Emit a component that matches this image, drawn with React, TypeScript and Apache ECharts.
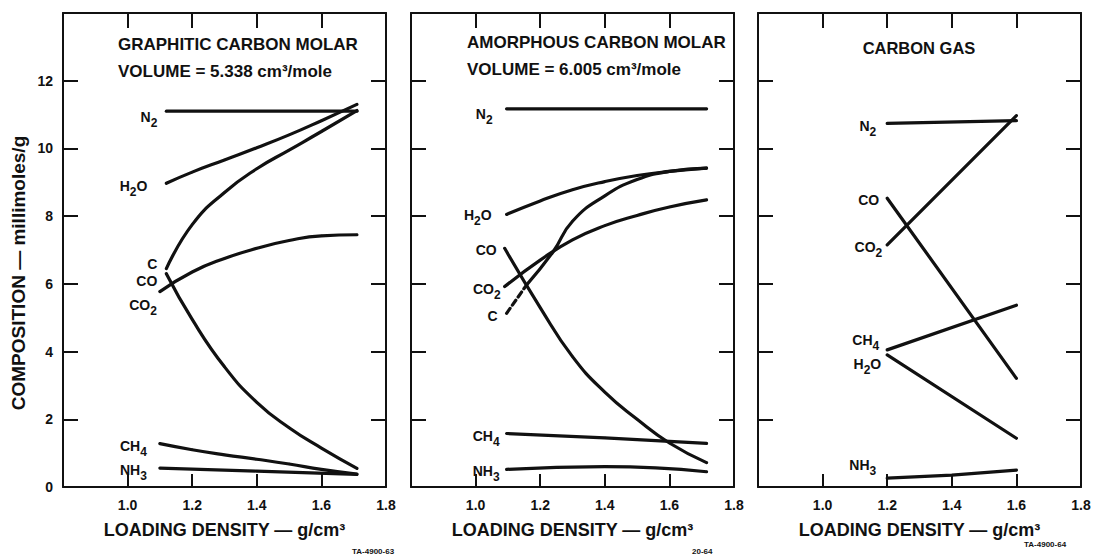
import React, { useEffect, useRef } from "react";
import * as echarts from "echarts";

// ---------- axes ----------
const densityTicks = [0.8, 1.0, 1.2, 1.4, 1.6, 1.8];
const compositionTicks = [0, 2, 4, 6, 8, 10, 12, 14];

// ---------- panel titles ----------
const panelTitles = [
  ["GRAPHITIC CARBON MOLAR", "VOLUME = 5.338 cm³/mole"],
  ["AMORPHOUS CARBON MOLAR", "VOLUME = 6.005 cm³/mole"],
  ["CARBON GAS"],
];
const xAxisTitle = "LOADING DENSITY — g/cm³";
const yAxisTitle = "COMPOSITION — millimoles/g";
const figureIds = ["TA-4900-63", "20-64", "TA-4900-64"];

// ---------- panel 1: graphitic carbon  [density g/cm³, millimoles/g] ----------
const graphiticN2 = [[1.12, 11.1], [1.71, 11.1]];
const graphiticH2O = [[1.12, 8.97], [1.2, 9.3], [1.3, 9.66], [1.4, 10.02], [1.5, 10.4], [1.6, 10.82], [1.71, 11.3]];
const graphiticC = [[1.12, 6.45], [1.2, 7.75], [1.3, 8.7], [1.4, 9.4], [1.5, 9.95], [1.6, 10.5], [1.71, 11.12]];
const graphiticCO = [[1.12, 6.3], [1.2, 4.95], [1.3, 3.55], [1.4, 2.5], [1.5, 1.75], [1.6, 1.15], [1.71, 0.55]];
const graphiticCO2 = [[1.1, 5.77], [1.2, 6.35], [1.3, 6.75], [1.4, 7.05], [1.5, 7.28], [1.6, 7.42], [1.71, 7.45]];
const graphiticCH4 = [[1.1, 1.28], [1.2, 1.1], [1.3, 0.95], [1.4, 0.82], [1.5, 0.68], [1.6, 0.52], [1.71, 0.38]];
const graphiticNH3 = [[1.1, 0.56], [1.4, 0.47], [1.71, 0.37]];

// ---------- panel 2: amorphous carbon ----------
const amorphousN2 = [[1.096, 11.17], [1.715, 11.17]];
const amorphousH2O = [[1.096, 8.05], [1.2, 8.45], [1.3, 8.78], [1.4, 9.02], [1.5, 9.2], [1.6, 9.32], [1.715, 9.42]];
const amorphousCO = [[1.09, 7.05], [1.2, 5.3], [1.3, 3.85], [1.4, 2.8], [1.5, 2.0], [1.6, 1.3], [1.715, 0.72]];
const amorphousCO2 = [[1.09, 5.92], [1.2, 6.7], [1.3, 7.3], [1.4, 7.72], [1.5, 8.02], [1.6, 8.27], [1.715, 8.48]];
const amorphousCExtrapolated = [[1.096, 5.13], [1.158, 5.97]];
const amorphousC = [[1.158, 5.97], [1.24, 6.95], [1.3, 7.85], [1.4, 8.6], [1.5, 9.08], [1.6, 9.32], [1.715, 9.42]];
const amorphousCH4 = [[1.096, 1.58], [1.4, 1.45], [1.715, 1.29]];
const amorphousNH3 = [[1.096, 0.52], [1.4, 0.6], [1.715, 0.45]];

// ---------- panel 3: carbon gas ----------
const gasN2 = [[1.2, 10.74], [1.6, 10.82]];
const gasCO2 = [[1.2, 7.15], [1.6, 10.97]];
const gasCO = [[1.2, 8.53], [1.6, 3.21]];
const gasCH4 = [[1.2, 4.05], [1.6, 5.37]];
const gasH2O = [[1.2, 3.9], [1.6, 1.44]];
const gasNH3 = [[1.2, 0.26], [1.4, 0.35], [1.6, 0.5]];

// ---------- styling ----------
const INK = "#111111";
const FONT = '"Liberation Sans", "DejaVu Sans", Arial, sans-serif';
const LEFTS = [63, 411, 758];
const TOP = 13;
const W = 323;
const H = 474;

type Spec = {
  panel: number;
  name: string;
  pts: number[][];
  label?: string;
  dist?: number;
  dy?: number;
  dashed?: boolean;
  smooth?: number | boolean;
};

const specs: Spec[] = [
  { panel: 0, name: "N₂", pts: graphiticN2, label: "N₂", dist: 8, dy: 5.5 },
  { panel: 0, name: "H₂O", pts: graphiticH2O, label: "H₂O", dist: 18, dy: 3 },
  { panel: 0, name: "C", pts: graphiticC, label: "C", dist: 8, dy: -5 },
  { panel: 0, name: "CO", pts: graphiticCO, label: "CO", dist: 8, dy: 7 },
  { panel: 0, name: "CO₂", pts: graphiticCO2, label: "CO₂", dist: 2, dy: 13.5 },
  { panel: 0, name: "CH₄", pts: graphiticCH4, label: "CH₄", dist: 12, dy: 2 },
  { panel: 0, name: "NH₃", pts: graphiticNH3, label: "NH₃", dist: 12, dy: 1.5 },

  { panel: 1, name: "N₂", pts: amorphousN2, label: "N₂", dist: 13, dy: 4.7 },
  { panel: 1, name: "H₂O", pts: amorphousH2O, label: "H₂O", dist: 14, dy: 1 },
  { panel: 1, name: "CO", pts: amorphousCO, label: "CO", dist: 7, dy: 1.7 },
  { panel: 1, name: "CO₂", pts: amorphousCO2, label: "CO₂", dist: 3, dy: 2 },
  { panel: 1, name: "C extrapolated", pts: amorphousCExtrapolated, label: "C", dist: 8, dy: 3, dashed: true, smooth: false },
  { panel: 1, name: "C", pts: amorphousC },
  { panel: 1, name: "CH₄", pts: amorphousCH4, label: "CH₄", dist: 6, dy: 2 },
  { panel: 1, name: "NH₃", pts: amorphousNH3, label: "NH₃", dist: 6, dy: 2 },

  { panel: 2, name: "N₂", pts: gasN2, label: "N₂", dist: 10, dy: 3, smooth: false },
  { panel: 2, name: "CO", pts: gasCO, label: "CO", dist: 7, dy: 2, smooth: false },
  { panel: 2, name: "CO₂", pts: gasCO2, label: "CO₂", dist: 4, dy: 1.6, smooth: false },
  { panel: 2, name: "CH₄", pts: gasCH4, label: "CH₄", dist: 7, dy: -9.4, smooth: false },
  { panel: 2, name: "H₂O", pts: gasH2O, label: "H₂O", dist: 5, dy: 9.5, smooth: false },
  { panel: 2, name: "NH₃", pts: gasNH3, label: "NH₃", dist: 10, dy: -13, smooth: false },
];

const SUB: Record<string, string> = { "₀": "0", "₁": "1", "₂": "2", "₃": "3", "₄": "4", "₅": "5", "₆": "6", "₇": "7", "₈": "8", "₉": "9" };

// "H₂O" -> "{m|H}{s|2}{m|O}"
function toRich(t: string): { text: string; hasSub: boolean } {
  let out = "";
  let hasSub = false;
  let buf = "";
  const flush = () => {
    if (buf) out += `{m|${buf}}`;
    buf = "";
  };
  for (const ch of t) {
    if (SUB[ch]) {
      flush();
      out += `{s|${SUB[ch]}}`;
      hasSub = true;
    } else buf += ch;
  }
  flush();
  return { text: out, hasSub };
}

const boldText = (size: number) => ({
  color: INK,
  fontFamily: FONT,
  fontWeight: "bold" as const,
  fontSize: size,
});

function buildOption() {
  const dMin = densityTicks[0];
  const dMax = densityTicks[densityTicks.length - 1];
  const dStep = densityTicks[1] - densityTicks[0];
  const cMin = compositionTicks[0];
  const cMax = compositionTicks[compositionTicks.length - 1];
  const cStep = compositionTicks[1] - compositionTicks[0];

  const axisLine = { show: true, onZero: false, lineStyle: { color: INK, width: 2 } };
  const tick = (len: number) => ({ show: true, inside: true, length: len, lineStyle: { color: INK, width: 2 } });

  const grid = LEFTS.map((l) => ({
    left: l,
    top: TOP,
    width: W,
    height: H,
    containLabel: false,
    outerBoundsMode: "none",
  }));

  const xAxis: any[] = [];
  const yAxis: any[] = [];
  LEFTS.forEach((_, p) => {
    xAxis.push({
      gridIndex: p,
      type: "value",
      position: "bottom",
      min: dMin,
      max: dMax,
      interval: dStep,
      axisLine,
      axisTick: tick(13),
      splitLine: { show: false },
      axisLabel: {
        show: true,
        margin: 11,
        ...boldText(14),
        formatter: (v: number) => (v < dMin + dStep / 2 ? "" : v.toFixed(1)),
      },
      name: xAxisTitle,
      nameLocation: "middle",
      nameGap: 34,
      nameTextStyle: boldText(18),
    });
    xAxis.push({
      gridIndex: p,
      type: "value",
      position: "top",
      min: dMin,
      max: dMax,
      interval: dStep,
      axisLine,
      axisTick: tick(15),
      splitLine: { show: false },
      axisLabel: { show: false },
    });
    yAxis.push({
      gridIndex: p,
      type: "value",
      position: "left",
      min: cMin,
      max: cMax,
      interval: cStep,
      axisLine,
      axisTick: tick(15),
      splitLine: { show: false },
      axisLabel: {
        show: p === 0,
        margin: 10,
        ...boldText(14),
        formatter: (v: number) => (v >= cMax ? "" : String(v)),
      },
    });
    yAxis.push({
      gridIndex: p,
      type: "value",
      position: "right",
      min: cMin,
      max: cMax,
      interval: cStep,
      axisLine,
      axisTick: tick(15),
      splitLine: { show: false },
      axisLabel: { show: false },
    });
  });

  const rich = {
    m: { ...boldText(14), verticalAlign: "top" },
    s: { ...boldText(12), verticalAlign: "bottom", padding: [7, 0, 0, 0] },
  };

  const series = specs.map((s) => {
    const r = s.label ? toRich(s.label) : null;
    return {
      type: "line",
      name: s.name,
      xAxisIndex: s.panel * 2,
      yAxisIndex: s.panel * 2,
      smooth: s.smooth === undefined ? 0.5 : s.smooth,
      symbol: "circle",
      symbolSize: 2,
      showSymbol: true,
      itemStyle: { color: INK },
      lineStyle: { color: INK, width: 3.2, type: s.dashed ? [6, 4] : "solid", cap: "round" },
      label: { show: false },
      silent: true,
      emphasis: { disabled: true },
      data: s.pts.map((pt, i) =>
        i === 0 && r
          ? {
              value: pt,
              label: {
                show: true,
                position: "left",
                distance: s.dist,
                offset: [0, (s.dy || 0) + (r.hasSub ? 2.5 : 0)],
                formatter: r.text,
                ...boldText(14),
                rich,
              },
            }
          : { value: pt }
      ),
    };
  });

  const titleFont = `bold 17px ${FONT}`;
  const graphic: any[] = [];
  graphic.push(
    { type: "text", left: 118, top: 36, style: { text: panelTitles[0][0], fill: INK, font: titleFont } },
    { type: "text", left: 118, top: 63, style: { text: panelTitles[0][1], fill: INK, font: titleFont } },
    { type: "text", left: 467, top: 34, style: { text: panelTitles[1][0], fill: INK, font: titleFont } },
    { type: "text", left: 467, top: 61, style: { text: panelTitles[1][1], fill: INK, font: titleFont } },
    {
      type: "text",
      x: 919,
      y: 48,
      style: { text: panelTitles[2][0], fill: INK, font: `bold 16.5px ${FONT}`, textAlign: "center", textVerticalAlign: "middle" },
    }
  );
  graphic.push({
    type: "text",
    x: 18,
    y: 273,
    rotation: Math.PI / 2,
    style: { text: yAxisTitle, fill: INK, font: `bold 19px ${FONT}`, textAlign: "center", textVerticalAlign: "middle" },
  });
  graphic.push(
    { type: "text", x: 352, y: 551, style: { text: figureIds[0], fill: INK, font: `bold 8px ${FONT}`, textVerticalAlign: "middle" } },
    { type: "text", x: 692, y: 551, style: { text: figureIds[1], fill: INK, font: `bold 8px ${FONT}`, textVerticalAlign: "middle" } },
    { type: "text", x: 1024, y: 544, style: { text: figureIds[2], fill: INK, font: `bold 8px ${FONT}`, textVerticalAlign: "middle" } }
  );

  return {
    animation: false,
    backgroundColor: "#ffffff",
    grid,
    xAxis,
    yAxis,
    series,
    graphic,
  };
}

export default function App() {
  const ref = useRef<HTMLDivElement | null>(null);
  useEffect(() => {
    if (!ref.current) return;
    const chart = echarts.init(ref.current, undefined, { renderer: "svg" });
    chart.setOption(buildOption() as any);
    return () => chart.dispose();
  }, []);
  return (
    <div
      ref={ref}
      style={{ position: "absolute", left: 0, top: 0, width: 1095, height: 556, background: "#fff" }}
    />
  );
}
